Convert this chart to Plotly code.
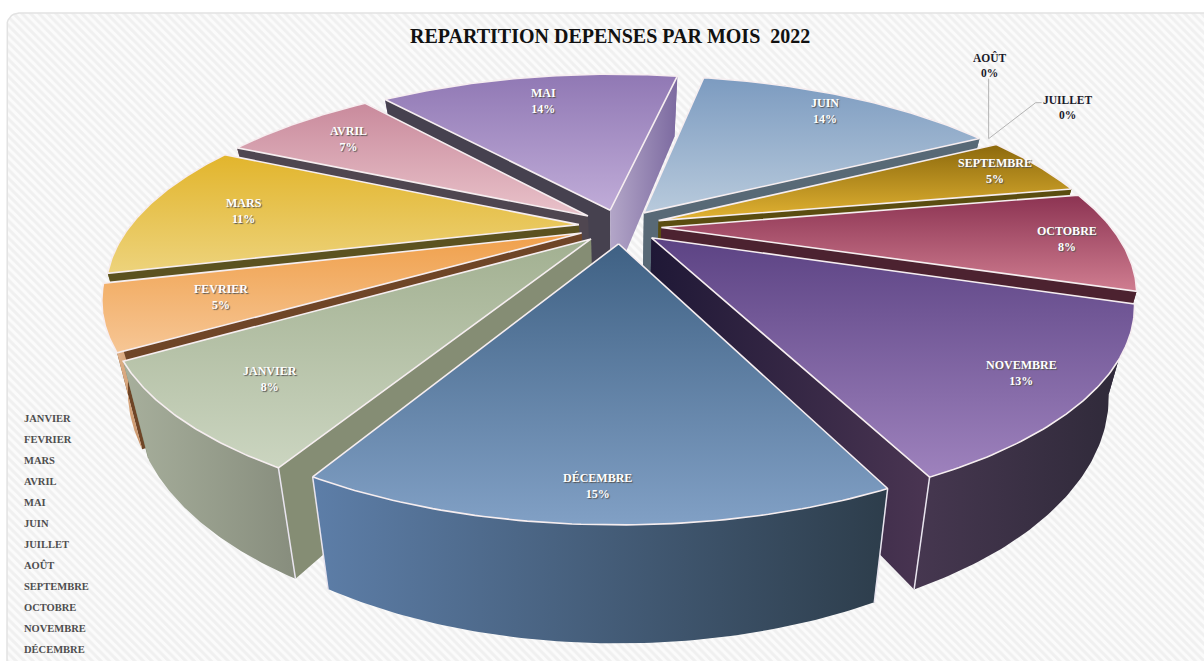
import numpy as np
import plotly.graph_objects as go

months = ["JANVIER", "FEVRIER", "MARS", "AVRIL", "MAI", "JUIN", "JUILLET", "AOÛT",
          "SEPTEMBRE", "OCTOBRE", "NOVEMBRE", "DÉCEMBRE"]
values = [8, 5, 11, 7, 14, 14, 0, 0, 5, 8, 13, 15]
title_text = "REPARTITION DEPENSES PAR MOIS  2022"

# style: (top-upper, top-lower, wall-left, wall-right, cut-start, cut-end)
STYLE = {
    "JANVIER":   ("#a2b091", "#cbd5c0", "#a7af9c", "#878d7d", "#858d74", "#858d74"),
    "FEVRIER":   ("#f0a04b", "#f6c695", "#eec39b", "#c9946a", "#6f4527", "#6f4527"),
    "MARS":      ("#e2b52c", "#edd37c", "#8a7a30", "#6a5c20", "#5b5220", "#5b5220"),
    "AVRIL":     ("#c98a9c", "#e9c2ca", "#8a5a68", "#6a4450", "#4f4650", "#4f4650"),
    "MAI":       ("#9078b4", "#c0acd8", "#7c6aa0", "#7c6aa0", "#46414f", "#a99bc0"),
    "JUIN":      ("#7c9bc0", "#b8cadc", "#5a6a78", "#5a6a78", "#5a6a78", "#586976"),
    "SEPTEMBRE": ("#8c690c", "#e2b333", "#5a4d10", "#5a4d10", "#5a4d10", "#5a4d10"),
    "OCTOBRE":   ("#8c3352", "#cf7d90", "#4c2230", "#4c2230", "#4c2230", "#4c2230"),
    "NOVEMBRE":  ("#5c4384", "#9e82bd", "#463750", "#2e2938", "#1f1836", "#1f1836"),
    "DÉCEMBRE":  ("#3f6184", "#81a0c5", "#5d7ea8", "#2d3d4b", "#2b3947", "#2b3947"),
}
CUT_GRAD = {("MAI", -1): ("#b3a6c8", "#7c6aa0"), ("NOVEMBRE", -1): ("#1f1836", "#4a3552")}
LABEL_R = {"JANVIER": .82, "FEVRIER": .776, "MARS": .77, "AVRIL": .80, "MAI": .78, "JUIN": .857,
           "SEPTEMBRE": .88, "OCTOBRE": .886, "NOVEMBRE": .875, "DÉCEMBRE": .90}

FIRST_ANGLE = 209.0
CX, CY, W, A, B, EXPLODE, H = 620.0, 226.3, 449.0, 184.8, 0.297, 0.092, 80.0
FONT = "Liberation Serif"


def project(X, Y, depth=0.0):
    X, Y = np.asarray(X, float), np.asarray(Y, float)
    s = 1 / (1 + B * Y)
    conv = 1 - 0.05 * depth
    return CX + W * X * s * conv, CY - A * Y * s + H * s * depth


def poly(fig, x, y, c0, c1=None, kind="horizontal", line=None, lw=0):
    c1 = c1 or c0
    fig.add_trace(go.Scatter(
        x=np.append(x, x[0]), y=np.append(y, y[0]), mode="lines", fill="toself",
        fillgradient=dict(type=kind, colorscale=[[0, c0], [1, c1]]),
        line=dict(color=line or "rgba(0,0,0,0)", width=lw),
        hoverinfo="skip", showlegend=False))


fig = go.Figure()

# hatched chart area with rounded corners
L, T, Rr, Bt, rad = 7, 13, 1230, 690, 12
ca = np.linspace(0, np.pi / 2, 8)
bgx = np.concatenate([[L], L + rad - rad * np.cos(ca), [Rr, Rr, L]])
bgy = np.concatenate([[Bt], T + rad - rad * np.sin(ca), [T, Bt, Bt]])
fig.add_trace(go.Scatter(x=bgx, y=bgy, mode="lines", fill="toself", hoverinfo="skip", showlegend=False,
                         line=dict(color="#e2e2e2", width=1.5), fillcolor="#f4f4f4",
                         fillpattern=dict(shape="\\", fgcolor="#e6e6e6", bgcolor="#fbfbfb", size=6, solidity=0.5)))

total = sum(values)
edges = FIRST_ANGLE + 360 * np.cumsum([0] + values) / total
slices = []
for i, m in enumerate(months):
    a0, a1 = edges[i], edges[i + 1]
    mid = np.radians((a0 + a1) / 2)
    slices.append(dict(name=m, val=values[i], a0=a0, a1=a1, mid=mid,
                       ox=EXPLODE * np.sin(mid), oy=EXPLODE * np.cos(mid)))


def draw_cuts(fig, sl, X, Y, st):
    for idx, col in ((0, st[4]), (-1, st[5])):
        qx = np.array([sl["ox"], X[idx]])
        qy = np.array([sl["oy"], Y[idx]])
        x0, y0 = project(qx, qy)
        x1, y1 = project(qx, qy, 1)
        grad = CUT_GRAD.get((sl["name"], idx), (col, col))
        poly(fig, np.concatenate([x0, x1[::-1]]), np.concatenate([y0, y1[::-1]]), grad[0], grad[1])


# painter's order: back to front
for sl in sorted([s for s in slices if s["val"] > 0], key=lambda s: -np.cos(s["mid"])):
    st = STYLE[sl["name"]]
    th = np.radians(np.linspace(sl["a0"], sl["a1"], 70))
    X, Y = sl["ox"] + np.sin(th), sl["oy"] + np.cos(th)
    front = np.cos(sl["mid"]) < 0
    if front:
        draw_cuts(fig, sl, X, Y, st)
    # outer wall
    x0, y0 = project(X, Y)
    x1, y1 = project(X, Y, 1)
    poly(fig, np.concatenate([x0, x1[::-1]]), np.concatenate([y0, y1[::-1]]), st[2], st[3])
    if not front:
        draw_cuts(fig, sl, X, Y, st)
    # bright corner edges on the front of the pie
    for idx in (0, -1):
        if Y[idx] < -0.7:
            ex, ey = project([X[idx]], [Y[idx]])
            bx_, by_ = project([X[idx]], [Y[idx]], 1)
            fig.add_trace(go.Scatter(x=[ex[0], bx_[0]], y=[ey[0], by_[0]], mode="lines",
                                     line=dict(color="#e9e5ef", width=1.5), hoverinfo="skip", showlegend=False))
    # top (plotly's colorscale runs from the lower screen edge to the upper one on this reversed axis)
    tx, ty = project(np.concatenate([[sl["ox"]], X]), np.concatenate([[sl["oy"]], Y]))
    poly(fig, tx, ty, st[1], st[0], kind="vertical", line="#f6eef0", lw=1.6)

ann = []
# data labels
for sl in slices:
    if sl["val"] > 0:
        th = sl["mid"]
        r = LABEL_R[sl["name"]]
        lx, ly = project(sl["ox"] + r * np.sin(th), sl["oy"] + r * np.cos(th))
        ann.append(dict(x=float(lx), y=float(ly), text=f"{sl['name']}<br>{sl['val']}%", showarrow=False,
                        font=dict(family=FONT, size=12, color="white", weight="bold",
                                  shadow="1px 1px 1px #555")))
    else:
        # zero slices: outside labels with leader lines
        th = np.radians(sl["a0"])
        bx, by = project(sl["ox"] + np.sin(th), sl["oy"] + np.cos(th))
        bx, by = float(bx) - 4, float(by) - 4
        if sl["name"] == "AOÛT":
            ex, ey, tx_, ty_ = bx, by - 60, bx + 1, by - 74
        else:
            ex, ey, tx_, ty_ = bx + 47, by - 36, bx + 79, by - 31
            fig.add_trace(go.Scatter(x=[ex, ex + 6], y=[ey, ey], mode="lines",
                                     line=dict(color="#b4b4b4", width=1), hoverinfo="skip", showlegend=False))
        fig.add_trace(go.Scatter(x=[bx, ex], y=[by, ey], mode="lines",
                                 line=dict(color="#b4b4b4", width=1), hoverinfo="skip", showlegend=False))
        ann.append(dict(x=tx_, y=ty_, text=f"{sl['name']}<br>{sl['val']}%", showarrow=False,
                        font=dict(family=FONT, size=11.5, color="#1a1a2a", weight="bold")))

# text-only legend
for i, m in enumerate(months):
    ann.append(dict(x=22, y=418 + i * (649 - 418) / (len(months) - 1), text=m, showarrow=False, xanchor="left",
                    font=dict(family=FONT, size=10.5, color="#4e4e4e", weight="bold")))

# title
ann.append(dict(x=610, y=36, text=title_text, showarrow=False,
                font=dict(family=FONT, size=20, color="#111111", weight="bold")))

fig.update_layout(width=1204, height=661, margin=dict(l=0, r=0, t=0, b=0), paper_bgcolor="white",
                  plot_bgcolor="white", showlegend=False, annotations=ann,
                  xaxis=dict(range=[0, 1204], visible=False, fixedrange=True),
                  yaxis=dict(range=[661, 0], visible=False, fixedrange=True))
fig.write_html("out.html", config={"displayModeBar": False},
               post_script="document.body.style.margin='0';document.body.style.overflow='hidden';")
